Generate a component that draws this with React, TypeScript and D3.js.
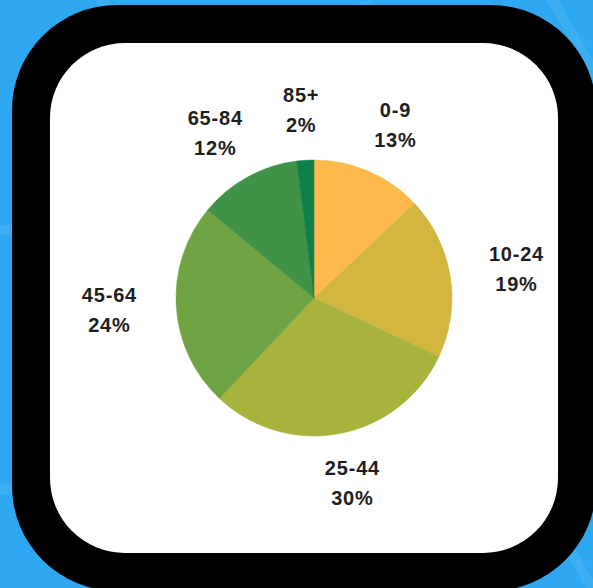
import React from "react";
import * as d3 from "d3";

const categories = ["0-9", "10-24", "25-44", "45-64", "65-84", "85+"];
const values = [13, 19, 30, 24, 12, 2];
const percentLabels = ["13%", "19%", "30%", "24%", "12%", "2%"];
const colors = ["#FDB94C", "#D3B63F", "#A7B33D", "#70A344", "#3F9247", "#0F8049"];

const W = 593;
const H = 588;
const CX = 314;
const CY = 298;
const R = 138;
const LRX = 205;
const LRY = 188;

function hexPath(cx: number, cy: number, r: number) {
  const pts = d3.range(6).map((i) => {
    const a = (Math.PI / 3) * i;
    return [cx + r * Math.cos(a), cy + r * Math.sin(a)];
  });
  return "M" + pts.map((p) => p.join(",")).join("L") + "Z";
}

export default function App() {
  const data = categories.map((c, i) => ({ cat: c, value: values[i], pct: percentLabels[i], color: colors[i] }));
  const pie = d3.pie<any>().value((d) => d.value).sort(null);
  const arcs = pie(data);
  const arc = d3.arc<any>().innerRadius(0).outerRadius(R);

  const hexes: string[] = [];
  const hr = 150;
  for (let col = -1; col < 4; col++) {
    for (let row = -1; row < 4; row++) {
      const x = col * hr * 1.5 + 10;
      const y = row * hr * Math.sqrt(3) + (col % 2 !== 0 ? (hr * Math.sqrt(3)) / 2 : 0) + 100;
      hexes.push(hexPath(x, y, hr));
    }
  }

  return (
    <div style={{ position: "fixed", left: 0, top: 0, width: W, height: H, overflow: "hidden" }}>
      <svg width={W} height={H} style={{ display: "block" }}>
        <rect x={0} y={0} width={W} height={H} fill="#2EA9F1" />
        <g fill="none" stroke="#5CBEF6" strokeWidth={10} opacity={0.3}>
          {hexes.map((p, i) => (
            <path key={i} d={p} />
          ))}
        </g>
        <rect x={12} y={5} width={584} height={586} rx={105} ry={105} fill="#000" />
        <rect x={50} y={43} width={508} height={510} rx={75} ry={75} fill="#fff" />
        <g transform={`translate(${CX},${CY})`}>
          {arcs.map((a, i) => (
            <path key={i} d={arc(a) as string} fill={a.data.color} stroke={a.data.color} strokeWidth={0.5} />
          ))}
          {arcs.map((a, i) => {
            const mid = (a.startAngle + a.endAngle) / 2;
            const x = Math.sin(mid) * LRX;
            const y = -Math.cos(mid) * LRY;
            return (
              <text
                key={"t" + i}
                x={x}
                y={y}
                textAnchor="middle"
                fontFamily="'Liberation Sans', Arial, sans-serif"
                fontWeight="bold"
                fontSize={20}
                letterSpacing={0.8}
                fill="#1e1e1e"
              >
                <tspan x={x} dy={-8}>{a.data.cat}</tspan>
                <tspan x={x} dy={30}>{a.data.pct}</tspan>
              </text>
            );
          })}
        </g>
      </svg>
    </div>
  );
}
